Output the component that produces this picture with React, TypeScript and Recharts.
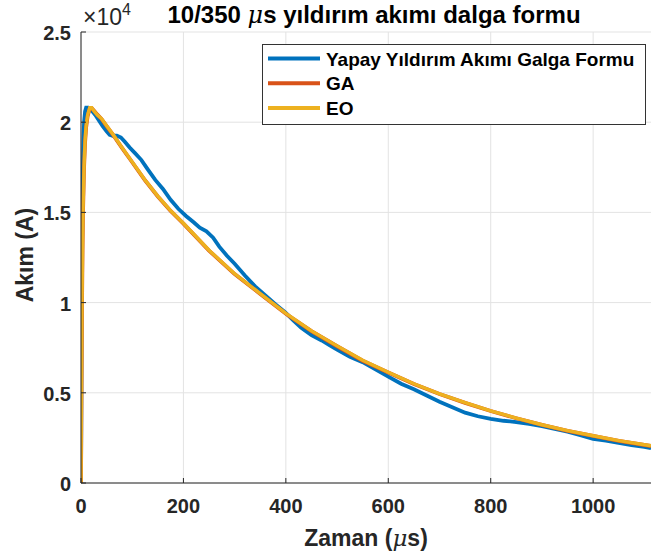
import React from 'react';
import { LineChart, Line, XAxis, YAxis, CartesianGrid, Legend } from 'recharts';

const seriesNames = ['Yapay Yıldırım Akımı Galga Formu', 'GA', 'EO'];
const seriesColors = ['#0072BD', '#D95319', '#EDB120'];

const blueT = [0, 0.5, 1, 2, 3, 4, 5, 6, 8, 10, 14, 18, 22, 28, 35, 42, 50, 56, 62, 70, 78, 86, 95, 105, 118, 130, 145, 160, 175, 190, 205, 220, 232, 245, 258, 270, 285, 300, 320, 340, 360, 380, 399, 415, 430, 450, 470, 485, 500, 525, 550, 575, 600, 625, 650, 675, 700, 725, 750, 775, 800, 825, 850, 875, 900, 925, 950, 975, 1000, 1025, 1050, 1075, 1100, 1113];
const blueI = [0, 3000, 8000, 13000, 16000, 18000, 19200, 20000, 20600, 20800, 20800, 20700, 20600, 20400, 20100, 19800, 19500, 19300, 19250, 19250, 19150, 18900, 18600, 18300, 17900, 17400, 16800, 16300, 15700, 15200, 14800, 14450, 14150, 13950, 13600, 13100, 12600, 12150, 11500, 10900, 10400, 9900, 9450, 9000, 8600, 8200, 7900, 7650, 7400, 7000, 6700, 6300, 5900, 5500, 5200, 4850, 4500, 4200, 3900, 3700, 3550, 3450, 3380, 3280, 3150, 3000, 2850, 2650, 2450, 2350, 2220, 2100, 2000, 1930];

const fitT = [0, 1, 2, 3, 4, 6, 8, 10, 13, 17, 21, 26, 32, 40, 50, 63, 80, 100, 125, 150, 175, 200, 250, 300, 350, 400, 450, 500, 550, 600, 650, 700, 750, 800, 850, 900, 950, 1000, 1050, 1113];
const gaI = [0, 5400, 9900, 12900, 15100, 17500, 18900, 19700, 20350, 20750, 20780, 20620, 20420, 20180, 19780, 19280, 18580, 17780, 16780, 15880, 15080, 14380, 12880, 11580, 10480, 9380, 8420, 7580, 6780, 6130, 5490, 4930, 4440, 3990, 3590, 3220, 2890, 2610, 2340, 2050];
const eoI = [0, 5500, 10000, 13000, 15200, 17600, 19000, 19800, 20400, 20800, 20800, 20600, 20400, 20200, 19800, 19300, 18600, 17800, 16800, 15900, 15100, 14400, 12900, 11600, 10500, 9400, 8430, 7600, 6800, 6140, 5500, 4940, 4450, 4000, 3600, 3230, 2900, 2620, 2350, 2060];

const xTicks = [0, 200, 400, 600, 800, 1000];
const yTicks = [0, 5000, 10000, 15000, 20000, 25000];
const yTickLabels = ['0', '0.5', '1', '1.5', '2', '2.5'];

const blueData = blueT.map((t, i) => ({ t, v: blueI[i] }));
const gaData = fitT.map((t, i) => ({ t, v: gaI[i] }));
const eoData = fitT.map((t, i) => ({ t, v: eoI[i] }));

const FONT = '"Liberation Sans", Arial, Helvetica, sans-serif';
const AX = '#262626';

const BottomTick = (p: any) => {
  const { x, y, payload } = p;
  return (
    <g>
      <line x1={x} x2={x} y1={y} y2={y - 5} stroke={AX} strokeWidth={1} />
      <text x={x} y={y + 30} textAnchor="middle" fontFamily={FONT} fontWeight="bold" fontSize={20} fill={AX}>
        {payload.value}
      </text>
    </g>
  );
};

const TopTick = (p: any) => {
  const { x, y } = p;
  return <line x1={x} x2={x} y1={y} y2={y + 5} stroke={AX} strokeWidth={1} />;
};

const LeftTick = (p: any) => {
  const { x, y, payload } = p;
  const idx = yTicks.indexOf(payload.value);
  return (
    <g>
      <line x1={x} x2={x + 5} y1={y} y2={y} stroke={AX} strokeWidth={1} />
      <text x={x - 10} y={y + 8} textAnchor="end" fontFamily={FONT} fontWeight="bold" fontSize={20} fill={AX}>
        {yTickLabels[idx]}
      </text>
    </g>
  );
};

const renderLegend = () => (
  <svg width={384} height={81} style={{ display: 'block' }}>
    <rect x={0.5} y={0.5} width={383} height={80} fill="#ffffff" stroke="#333333" strokeWidth={1} />
    {seriesNames.map((n, i) => (
      <g key={n}>
        <line x1={6} x2={58} y1={14.5 + i * 24.8} y2={14.5 + i * 24.8} stroke={seriesColors[i]} strokeWidth={4} />
        <text x={64} y={21.5 + i * 24.8} fontFamily={FONT} fontWeight="bold" fontSize={19} fill="#000">
          {n}
        </text>
      </g>
    ))}
  </svg>
);

export default function App() {
  return (
    <div style={{ position: 'absolute', left: 0, top: 0, width: 651, height: 555, background: '#fff', overflow: 'hidden' }}>
      <LineChart width={651} height={555} margin={{ top: 32, right: 0, bottom: 32, left: 41 }}>
        <CartesianGrid stroke="#e3e3e3" strokeWidth={1} horizontalValues={yTicks} verticalValues={xTicks} />
        <XAxis
          dataKey="t"
          type="number"
          domain={[0, 1113]}
          ticks={xTicks}
          allowDataOverflow
          height={40}
          tickSize={0}
          tickMargin={0}
          axisLine={{ stroke: AX, strokeWidth: 1 }}
          tick={<BottomTick />}
          interval={0}
        />
        <XAxis
          xAxisId="top"
          orientation="top"
          dataKey="t"
          type="number"
          domain={[0, 1113]}
          ticks={xTicks}
          allowDataOverflow
          height={0}
          tickSize={0}
          tickMargin={0}
          axisLine={{ stroke: AX, strokeWidth: 1 }}
          tick={<TopTick />}
          interval={0}
        />
        <YAxis
          type="number"
          domain={[0, 25000]}
          ticks={yTicks}
          allowDataOverflow
          width={40}
          tickSize={0}
          tickMargin={0}
          axisLine={{ stroke: AX, strokeWidth: 1 }}
          tick={<LeftTick />}
          interval={0}
        />
        <Legend
          layout="horizontal"
          verticalAlign="middle"
          align="center"
          content={renderLegend}
          wrapperStyle={{ position: 'absolute', left: 262, top: 44, width: 384, height: 81 }}
        />
        <Line data={blueData} dataKey="v" name={seriesNames[0]} stroke={seriesColors[0]} strokeWidth={3.8} dot={false} type="linear" isAnimationActive={false} />
        <Line data={gaData} dataKey="v" name={seriesNames[1]} stroke={seriesColors[1]} strokeWidth={3.8} dot={false} type="linear" isAnimationActive={false} />
        <Line data={eoData} dataKey="v" name={seriesNames[2]} stroke={seriesColors[2]} strokeWidth={3.4} dot={false} type="linear" isAnimationActive={false} />
      </LineChart>
      <svg width={651} height={555} style={{ position: 'absolute', left: 0, top: 0, pointerEvents: 'none' }}>
        <text x={374} y={23} textAnchor="middle" fontFamily={FONT} fontWeight="bold" fontSize={24} fill="#000">
          10/350 <tspan fontFamily='"DejaVu Serif", serif' fontStyle="italic" fontWeight="normal">μ</tspan>s yıldırım akımı dalga formu
        </text>
        <text x={83} y={25} fontFamily={FONT} fontSize={23} fill={AX}>
          ×10<tspan dy={-10} fontSize={16}>4</tspan>
        </text>
        <text x={33} y={255} transform="rotate(-90 33 255)" textAnchor="middle" fontFamily={FONT} fontWeight="bold" fontSize={23} fill={AX}>
          Akım (A)
        </text>
        <text x={366} y={546} textAnchor="middle" fontFamily={FONT} fontWeight="bold" fontSize={23} fill={AX}>
          Zaman (<tspan fontFamily='"DejaVu Serif", serif' fontStyle="italic" fontWeight="normal">μ</tspan>s)
        </text>
      </svg>
    </div>
  );
}
